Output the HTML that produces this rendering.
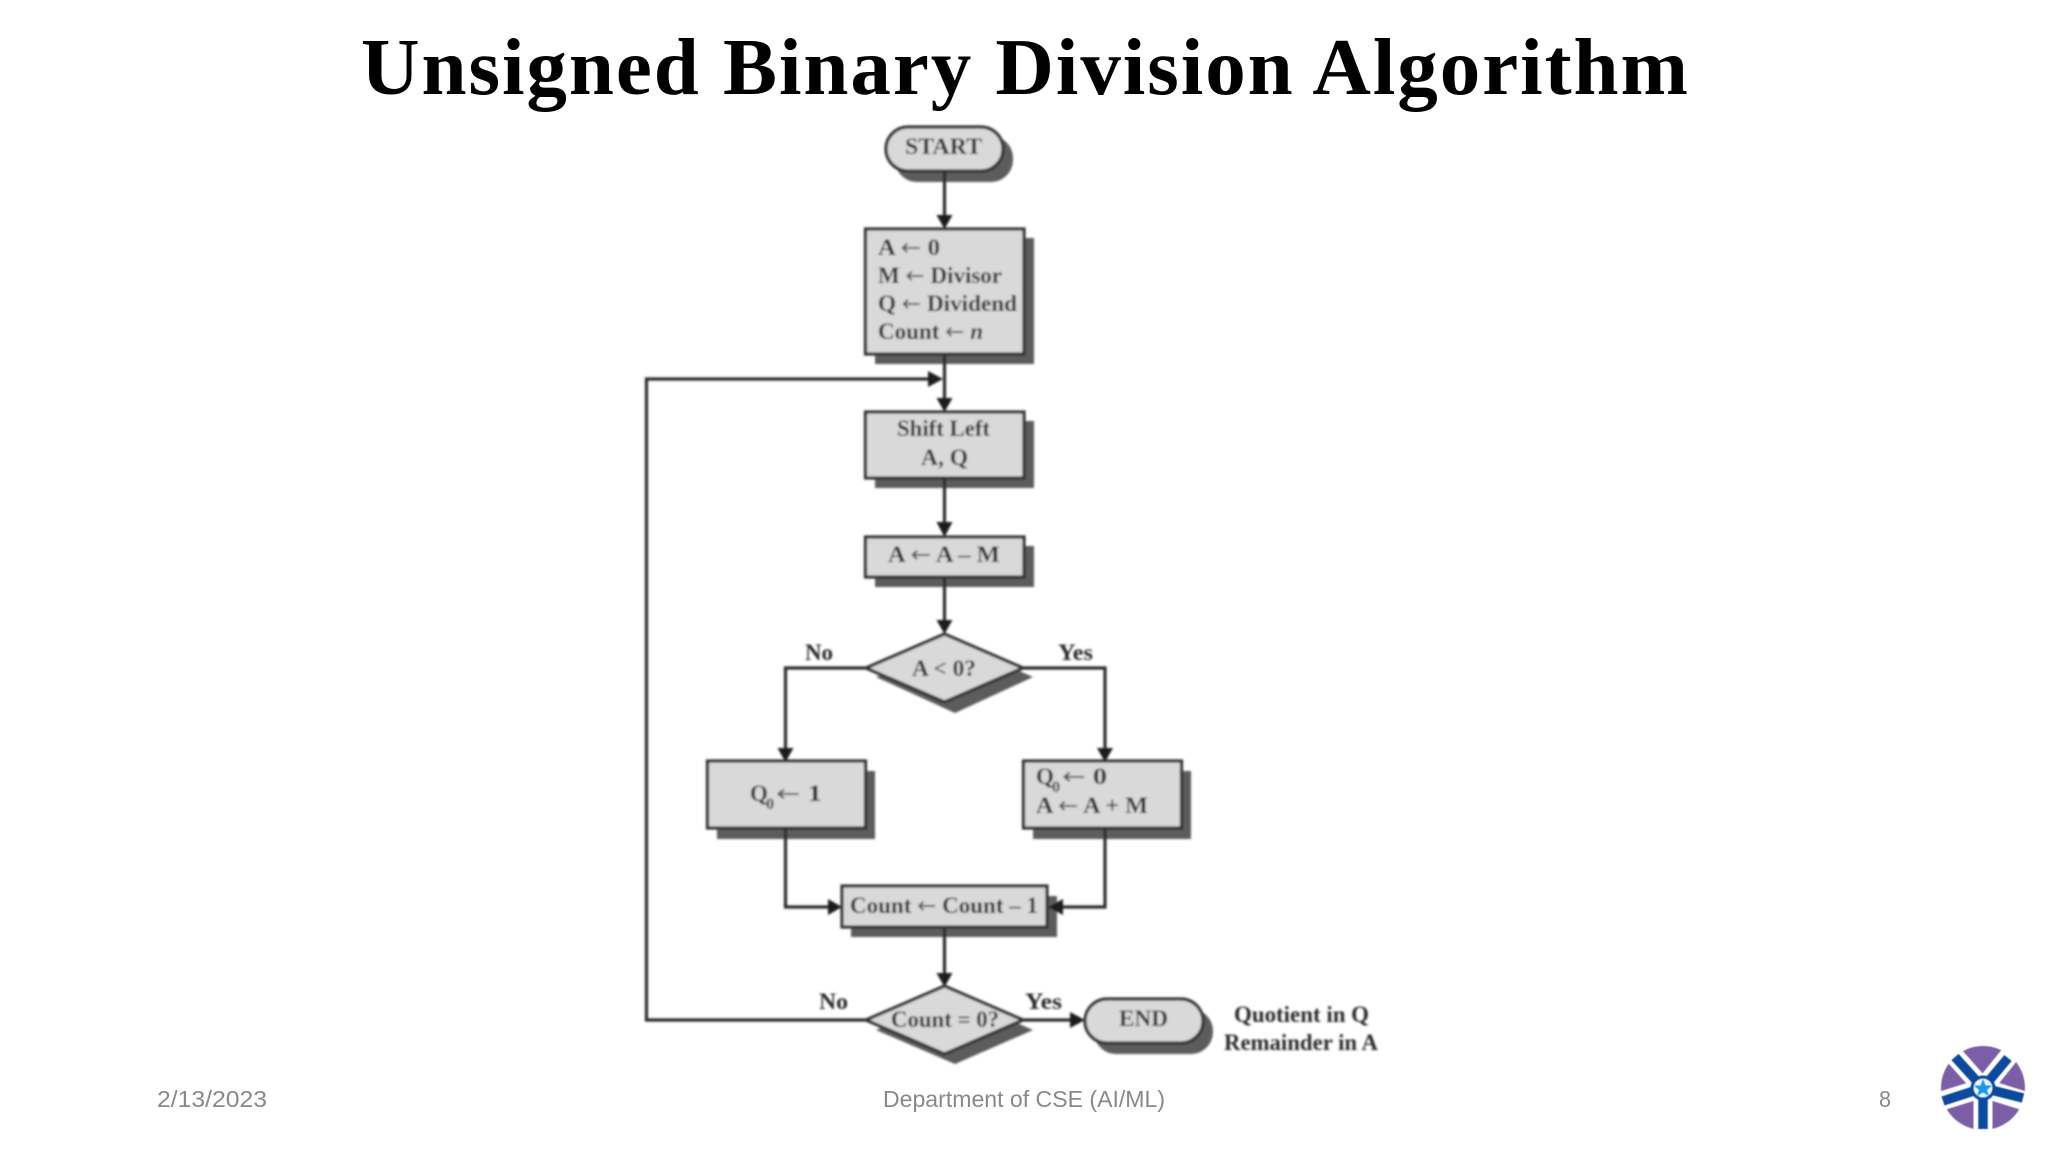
<!DOCTYPE html>
<html>
<head>
<meta charset="utf-8">
<style>
html,body{margin:0;padding:0;background:#fff;width:2048px;height:1152px;overflow:hidden}
svg{display:block}
.d text{font-family:"Liberation Serif",serif;font-weight:bold;font-size:23px;fill:#2a2a2a}
.d tspan.a{font-family:"DejaVu Sans",sans-serif;font-weight:normal;fill:#555}
.f{font-family:"Liberation Sans",sans-serif;font-size:23px;fill:#898989}
</style>
</head>
<body>
<svg width="2048" height="1152" viewBox="0 0 2048 1152" xmlns="http://www.w3.org/2000/svg">
<defs><filter id="b" x="-5%" y="-5%" width="110%" height="110%"><feGaussianBlur stdDeviation="1"/></filter></defs>
<text x="361" y="94" textLength="1327" lengthAdjust="spacing" style="font-family:'Liberation Serif',serif;font-weight:bold;font-size:81px;fill:#000">Unsigned Binary Division Algorithm</text>

<g class="d" filter="url(#b)">
<!-- shadows -->
<g fill="#5c5c5c">
<rect x="895" y="136" width="118" height="46" rx="22"/>
<rect x="875" y="238" width="159" height="126"/>
<rect x="875" y="421" width="159" height="67"/>
<rect x="875" y="546" width="159" height="41"/>
<polygon points="876,677 955,643 1033,677 955,713"/>
<rect x="717" y="771" width="158" height="68"/>
<rect x="1033" y="771" width="158" height="68"/>
<rect x="851" y="896" width="206" height="41"/>
<polygon points="876,1030 955,996 1033,1030 955,1064"/>
<rect x="1094" y="1009" width="119" height="45" rx="22"/>
</g>
<!-- connectors -->
<g fill="none" stroke="#2b2b2b" stroke-width="3.2">
<path d="M944.5 171V222"/>
<path d="M944.5 354V405"/>
<path d="M944.5 478V530"/>
<path d="M944.5 577V627"/>
<path d="M866 668H785.5V755"/>
<path d="M1023 668H1105V755"/>
<path d="M785.5 828V907H835"/>
<path d="M1105 828V907H1060"/>
<path d="M944.5 927V980"/>
<path d="M1023 1020H1078"/>
<path d="M866 1020H646.5V379H935"/>
</g>
<!-- arrowheads -->
<g fill="#1a1a1a">
<polygon points="936.5,215 952.5,215 944.5,229"/>
<polygon points="936.5,398 952.5,398 944.5,412"/>
<polygon points="936.5,522 952.5,522 944.5,537"/>
<polygon points="936.5,620 952.5,620 944.5,634"/>
<polygon points="777.5,748 793.5,748 785.5,762"/>
<polygon points="1097,748 1113,748 1105,762"/>
<polygon points="928,371 928,387 943,379"/>
<polygon points="828,899 828,915 842,907"/>
<polygon points="1063,899 1063,915 1048,907"/>
<polygon points="936.5,973 952.5,973 944.5,987"/>
<polygon points="1070,1012 1070,1028 1085,1020"/>
</g>
<!-- nodes -->
<g fill="#d9d9d9" stroke="#333" stroke-width="3.2">
<rect x="886" y="127" width="117" height="44" rx="22"/>
<rect x="865.5" y="229" width="158.5" height="125"/>
<rect x="865.5" y="412" width="158.5" height="66"/>
<rect x="865.5" y="537" width="158.5" height="40"/>
<polygon points="866,668 944.5,634 1023,668 944.5,702"/>
<rect x="707.5" y="761" width="158" height="67"/>
<rect x="1023.5" y="761" width="158" height="67"/>
<rect x="842" y="886" width="205" height="41"/>
<polygon points="866,1020 944.5,986 1023,1020 944.5,1054"/>
<rect x="1085" y="999" width="118" height="44" rx="22"/>
</g>
<!-- labels -->
<text x="905" y="154" textLength="77" lengthAdjust="spacingAndGlyphs">START</text>
<text x="878" y="255" textLength="62" lengthAdjust="spacingAndGlyphs">A <tspan class="a">←</tspan> 0</text>
<text x="878" y="283" textLength="124" lengthAdjust="spacingAndGlyphs">M <tspan class="a">←</tspan> Divisor</text>
<text x="878" y="311" textLength="139" lengthAdjust="spacingAndGlyphs">Q <tspan class="a">←</tspan> Dividend</text>
<text x="878" y="339" textLength="105" lengthAdjust="spacingAndGlyphs">Count <tspan class="a">←</tspan> <tspan font-style="italic">n</tspan></text>
<text x="897" y="436" textLength="93" lengthAdjust="spacingAndGlyphs">Shift Left</text>
<text x="921" y="465" textLength="47" lengthAdjust="spacingAndGlyphs">A, Q</text>
<text x="888" y="562" textLength="112" lengthAdjust="spacingAndGlyphs">A <tspan class="a">←</tspan> A – M</text>
<text x="912" y="676" textLength="64" lengthAdjust="spacingAndGlyphs">A &lt; 0?</text>
<text x="805" y="660" textLength="28" lengthAdjust="spacingAndGlyphs">No</text>
<text x="1058" y="660" textLength="35" lengthAdjust="spacingAndGlyphs">Yes</text>
<text x="750" y="801">Q</text>
<text x="766" y="809" style="font-size:16px">0</text>
<text x="776" y="801" textLength="46" lengthAdjust="spacingAndGlyphs"><tspan class="a">←</tspan> 1</text>
<text x="1036" y="784">Q</text>
<text x="1052" y="792" style="font-size:16px">0</text>
<text x="1062" y="784" textLength="45" lengthAdjust="spacingAndGlyphs"><tspan class="a">←</tspan> 0</text>
<text x="1036" y="813" textLength="112" lengthAdjust="spacingAndGlyphs">A <tspan class="a">←</tspan> A + M</text>
<text x="850" y="913" textLength="188" lengthAdjust="spacingAndGlyphs">Count <tspan class="a">←</tspan> Count – 1</text>
<text x="891" y="1027" textLength="108" lengthAdjust="spacingAndGlyphs">Count = 0?</text>
<text x="819" y="1009" textLength="29" lengthAdjust="spacingAndGlyphs">No</text>
<text x="1025" y="1009" textLength="37" lengthAdjust="spacingAndGlyphs">Yes</text>
<text x="1119" y="1026" textLength="49" lengthAdjust="spacingAndGlyphs">END</text>
<text x="1234" y="1022" textLength="135" lengthAdjust="spacingAndGlyphs">Quotient in Q</text>
<text x="1224" y="1050" textLength="154" lengthAdjust="spacingAndGlyphs">Remainder in A</text>
</g>

<!-- footer -->
<text class="f" x="157" y="1107" textLength="110" lengthAdjust="spacingAndGlyphs">2/13/2023</text>
<text class="f" x="883" y="1107" textLength="282" lengthAdjust="spacingAndGlyphs">Department of CSE (AI/ML)</text>
<text class="f" x="1879" y="1107" textLength="12" lengthAdjust="spacingAndGlyphs">8</text>

<!-- logo -->
<g style="filter:blur(.5px)">
<circle cx="1983" cy="1088" r="42" fill="#7b5ea6"/>
<g fill="none" stroke="#fff" stroke-width="19">
<path d="M1983 1088L1951 1052M1983 1088L2012 1052M1983 1088L1938 1102M1983 1088L2028 1102M1983 1088V1134"/>
</g>
<g fill="none" stroke="#0d4a9c" stroke-width="9.5">
<path d="M1983 1088L1955 1057M1983 1088L2008 1058M1983 1088L1943 1101M1983 1088L2023 1098M1983 1088V1129"/>
</g>
<circle cx="1983" cy="1088" r="11" fill="#e8f3fb" stroke="#0d4a9c" stroke-width="3"/>
<polygon points="1983,1079 1985.5,1085.5 1992,1085.5 1987,1090 1989,1096 1983,1092.5 1977,1096 1979,1090 1974,1085.5 1980.5,1085.5" fill="#1e96e6"/>
</g>
</svg>
</body>
</html>
